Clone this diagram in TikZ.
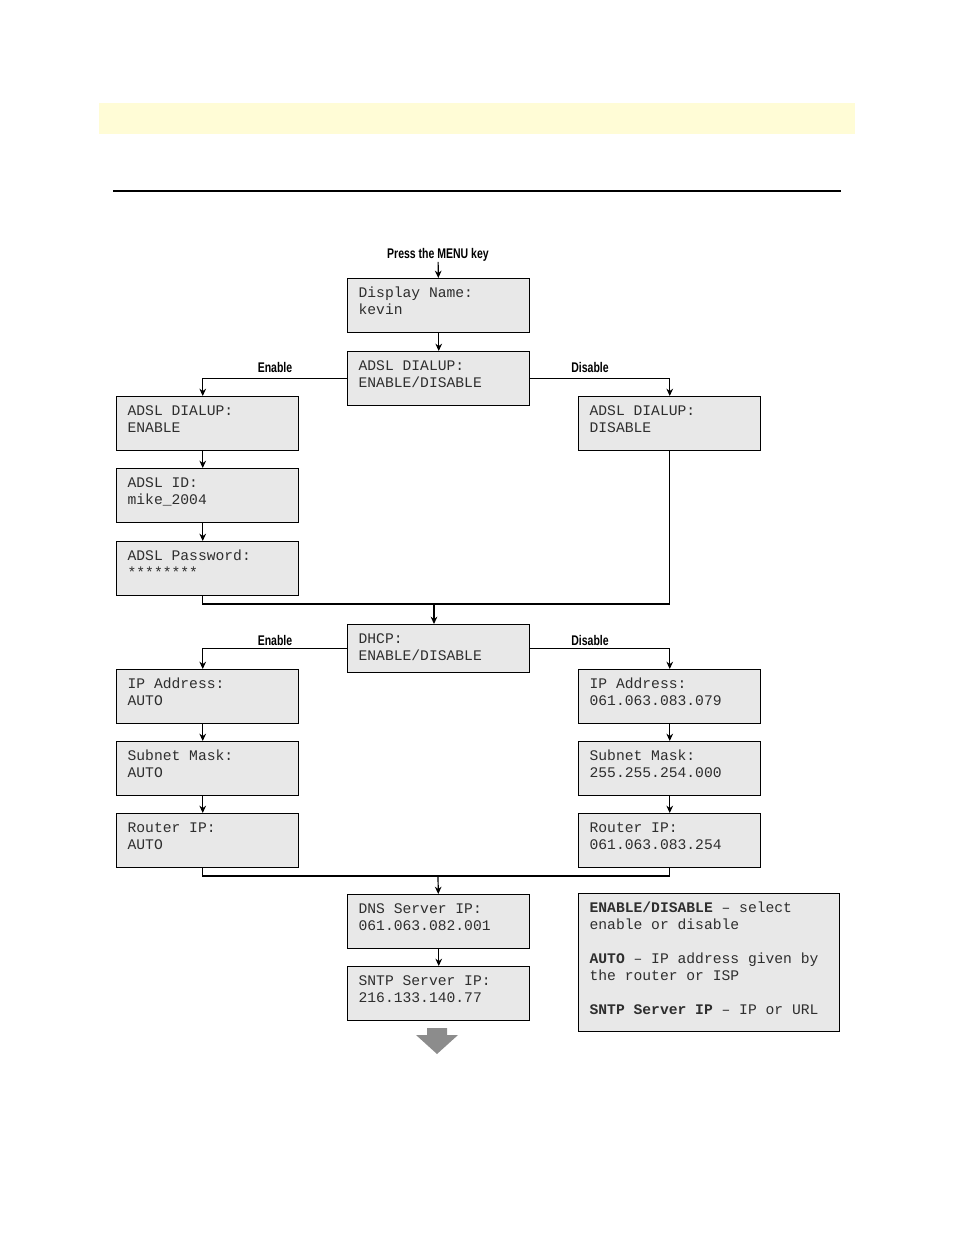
\documentclass[tikz,border=0pt]{standalone}
\usepackage{fontspec}
\setmainfont{Liberation Sans}
\newfontfamily\lcdfont{Liberation Mono}
\newfontfamily\flowfont[FakeStretch=0.75]{Liberation Sans}
\usetikzlibrary{arrows.meta}
\definecolor{lcdgray}{HTML}{E8E8E8}
\definecolor{notebar}{HTML}{FFFCD6}
\definecolor{bigarrow}{HTML}{8C8C8C}

\begin{document}
\begin{tikzpicture}[x=0.75pt,y=-0.75pt]
  % Parameters
  \def\boxw{136.5pt}
  \def\boxh{40.5pt}
  \def\colshift{-3.75pt} % left column lines sit a bit off centre

  % Styles for the display boxes and the lines
  \tikzset{
    lcd/.style={draw, line width=1.1pt, fill=lcdgray, anchor=north west,
      minimum width=\boxw, minimum height=\boxh, inner sep=0pt,
      label={[lcdtext]north west:{#1}}},
    lcdtext/.style={anchor=north west, inner sep=0pt, xshift=8.5pt, yshift=-6.75pt,
      align=left, text=black!82, font=\lcdfont\fontsize{11}{12.75}\selectfont},
    flow/.style={line width=0.9pt, -{Stealth[length=5.5pt,width=5pt]}},
    link/.style={line width=0.9pt},
    branch/.style={font=\flowfont\bfseries\fontsize{10.5}{12}\selectfont, inner sep=0pt}
  }

  \useasboundingbox (0,0) rectangle (954,1235);

  % Page head
  \fill[notebar] (99,103) rectangle (855,134);
  \draw[line width=0.8pt] (113,191) -- (841,191);

  % Top of the menu
  \node[branch] (press) at (438,255) {Press the MENU key};
  \node[lcd={Display Name:\\kevin}] (disp) at (347,278) {};
  \node[lcd={ADSL DIALUP:\\ENABLE/DISABLE}] (adsl) at (347,351) {};

  % ADSL branches
  \node[lcd={ADSL DIALUP:\\ENABLE}] (adslon) at (116,396) {};
  \node[lcd={ADSL ID:\\mike\_2004}] (adslid) at (116,468) {};
  \node[lcd={ADSL Password:\\********}] (adslpw) at (116,541) {};
  \node[lcd={ADSL DIALUP:\\DISABLE}] (adsloff) at (578,396) {};
  \node[branch] (adslyes) at (275,367) {Enable};
  \node[branch] (adslno) at (590,367) {Disable};

  % DHCP branches
  \node[lcd={DHCP:\\ENABLE/DISABLE}, minimum height=36pt] (dhcp) at (347,624) {};
  \node[branch] (dhcpyes) at (275,640) {Enable};
  \node[branch] (dhcpno) at (590,640) {Disable};
  \node[lcd={IP Address:\\AUTO}] (ipl) at (116,669) {};
  \node[lcd={Subnet Mask:\\AUTO}] (maskl) at (116,741) {};
  \node[lcd={Router IP:\\AUTO}] (routl) at (116,813) {};
  \node[lcd={IP Address:\\061.063.083.079}] (ipr) at (578,669) {};
  \node[lcd={Subnet Mask:\\255.255.254.000}] (maskr) at (578,741) {};
  \node[lcd={Router IP:\\061.063.083.254}] (routr) at (578,813) {};

  % Servers
  \node[lcd={DNS Server IP:\\061.063.082.001}] (dns) at (347,894) {};
  \node[lcd={SNTP Server IP:\\216.133.140.77}] (sntp) at (347,966) {};

  % Legend
  \node[lcd={\textbf{ENABLE/DISABLE} – select\\enable or disable\\[12.75pt]%
      \textbf{AUTO} – IP address given by\\the router or ISP\\[12.75pt]%
      \textbf{SNTP Server IP} – IP or URL},
    minimum width=195.75pt, minimum height=103.5pt] (note) at (578,893) {};

  % Connectors
  \draw[flow] (press) -- (disp);
  \draw[flow] (disp) -- (adsl);
  \draw[flow] (adsl.west) -| ([xshift=\colshift]adslon.north);
  \draw[flow] (adsl.east) -| (adsloff.north);
  \draw[flow] ([xshift=\colshift]adslon.south) -- ([xshift=\colshift]adslid.north);
  \draw[flow] ([xshift=\colshift]adslid.south) -- ([xshift=\colshift]adslpw.north);
  \coordinate (join1) at (434,604);
  \draw[link] ([xshift=\colshift]adslpw.south) |- (join1) -| (adsloff.south);
  \draw[flow] (join1) -- (join1 |- dhcp.north);

  \draw[flow] (dhcp.west) -| ([xshift=\colshift]ipl.north);
  \draw[flow] (dhcp.east) -| (ipr.north);
  \draw[flow] ([xshift=\colshift]ipl.south) -- ([xshift=\colshift]maskl.north);
  \draw[flow] ([xshift=\colshift]maskl.south) -- ([xshift=\colshift]routl.north);
  \draw[flow] (ipr) -- (maskr);
  \draw[flow] (maskr) -- (routr);
  \coordinate (join2) at (438,876);
  \draw[link] ([xshift=\colshift]routl.south) |- (join2) -| (routr.south);
  \draw[flow] (join2) -- (dns);
  \draw[flow] (dns) -- (sntp);

  % Continue arrow
  \fill[bigarrow] (427,1028) -- (447,1028) -- (447,1035) -- (458,1035)
    -- (437,1054) -- (416,1035) -- (427,1035) -- cycle;

\end{tikzpicture}
\end{document}
